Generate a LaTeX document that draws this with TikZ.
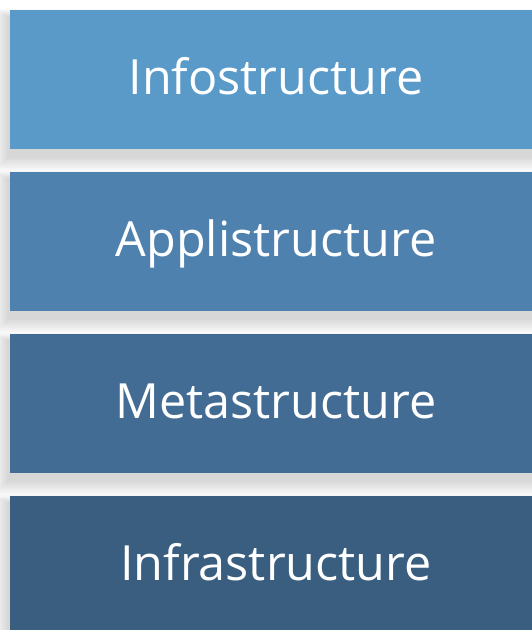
\documentclass[tikz,border=0pt]{standalone}
\usepackage{fontspec}
\setmainfont{Open Sans}
\definecolor{cA}{RGB}{90,154,201}
\definecolor{cB}{RGB}{79,129,175}
\definecolor{cC}{RGB}{67,108,148}
\definecolor{cD}{RGB}{58,94,127}
\tikzset{
  layertext/.style={text=white, font=\fontsize{48.5}{58}\selectfont, anchor=base, inner sep=0pt}
}
\newcommand{\softshadow}[4]{%
  \foreach \k in {2,4,...,16}{%
    \fill[black, fill opacity=0.018] ({#1-1-\k},{#2-7-\k}) rectangle ({#3-1+\k},{#4-7+0.5*\k});
  }%
}
\begin{document}
\begin{tikzpicture}[x=1pt,y=1pt]
\useasboundingbox (0,0) rectangle (532,630);
\fill[white] (0,0) rectangle (532,630);
\begin{scope}
\clip (0,0) rectangle (532,630);
\softshadow{10}{481}{545}{620}
\softshadow{10}{319}{545}{458}
\softshadow{10}{157}{545}{296}
\softshadow{10}{-10}{545}{134}
\fill[cA] (10,481) rectangle (545,620);
\fill[cB] (10,319) rectangle (545,458);
\fill[cC] (10,157) rectangle (545,296);
\fill[cD] (10,-10) rectangle (545,134);
\node[layertext] (info) at (276,535) {Infostructure};
\node[layertext] (appl) at (276,373) {Applistructure};
\node[layertext] (meta) at (276,211) {Metastructure};
\node[layertext] (infra) at (276,49) {Infrastructure};
\end{scope}
\end{tikzpicture}
\end{document}
